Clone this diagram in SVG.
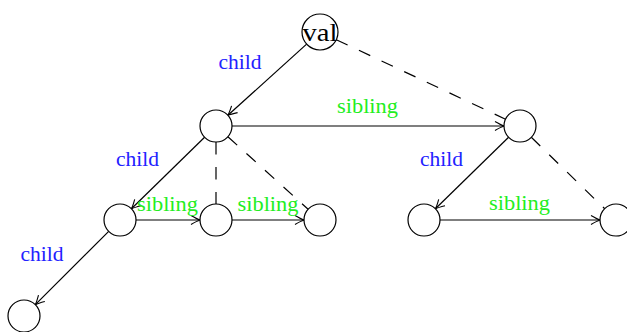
<svg xmlns="http://www.w3.org/2000/svg" width="627" height="332" viewBox="0 0 627 332">
<defs>
<marker id="arr" viewBox="-10 -6 12 12" refX="0" refY="0" markerWidth="12" markerHeight="12" markerUnits="userSpaceOnUse" orient="auto">
<path d="M -9 -4.5 Q -3 -1 0 0 Q -3 1 -9 4.5" fill="none" stroke="#000" stroke-width="1.1"/>
</marker>
<style>
.n{fill:#fff;stroke:#000;stroke-width:1.2}
.e{stroke:#000;stroke-width:1.2;fill:none}
.s{marker-end:url(#arr)}
.d{stroke-dasharray:12.5 12.5}
.ch{font-family:"Liberation Serif","Times New Roman",serif;font-size:20px;fill:#2222ff;text-anchor:middle}
.sb{font-family:"Liberation Serif","Times New Roman",serif;font-size:20px;fill:#22ee22;text-anchor:middle}
.v{font-family:"Liberation Serif","Times New Roman",serif;font-size:26px;fill:#000;text-anchor:middle}
</style>
</defs>
<g id="connectors">
<line class="e s" x1="306.6" y1="44.1" x2="227.9" y2="115.3"/>
<line class="e d" x1="336.3" y1="39.7" x2="505.5" y2="119.2"/>
<line class="e s" x1="232" y1="126" x2="504" y2="126"/>
<line class="e s" x1="204.6" y1="137.2" x2="131.4" y2="208.8"/>
<line class="e d" x1="216" y1="142" x2="216" y2="204"/>
<line class="e d" x1="227.9" y1="136.7" x2="308.1" y2="209.3"/>
<line class="e s" x1="136" y1="220" x2="200" y2="220"/>
<line class="e s" x1="232" y1="220" x2="304" y2="220"/>
<line class="e s" x1="108.7" y1="231.3" x2="35.3" y2="304.7"/>
<line class="e s" x1="508.6" y1="137.2" x2="435.4" y2="208.8"/>
<line class="e d" x1="531.3" y1="137.3" x2="604.7" y2="208.7"/>
<line class="e s" x1="440" y1="220" x2="600" y2="220"/>
<text class="ch" x="240" y="69" textLength="43" lengthAdjust="spacingAndGlyphs">child</text>
<text class="sb" x="367.5" y="113" textLength="61" lengthAdjust="spacingAndGlyphs">sibling</text>
<text class="ch" x="137.5" y="165.5" textLength="43" lengthAdjust="spacingAndGlyphs">child</text>
<text class="sb" x="167.5" y="211" textLength="61" lengthAdjust="spacingAndGlyphs">sibling</text>
<text class="sb" x="268" y="211" textLength="61" lengthAdjust="spacingAndGlyphs">sibling</text>
<text class="ch" x="441.5" y="166" textLength="43" lengthAdjust="spacingAndGlyphs">child</text>
<text class="sb" x="519.5" y="210" textLength="61" lengthAdjust="spacingAndGlyphs">sibling</text>
<text class="ch" x="42" y="260.5" textLength="43" lengthAdjust="spacingAndGlyphs">child</text>
</g>
<g id="val"><circle class="n" cx="320" cy="32" r="18"/><text class="v" x="320" y="41" textLength="35" lengthAdjust="spacingAndGlyphs">val</text></g>
<g id="a"><circle class="n" cx="216" cy="126" r="16"/></g>
<g id="b"><circle class="n" cx="520" cy="126" r="16"/></g>
<g id="c"><circle class="n" cx="120" cy="220" r="16"/></g>
<g id="d"><circle class="n" cx="216" cy="220" r="16"/></g>
<g id="e"><circle class="n" cx="320" cy="220" r="16"/></g>
<g id="f"><circle class="n" cx="424" cy="220" r="16"/></g>
<g id="g"><circle class="n" cx="616" cy="220" r="16"/></g>
<g id="h"><circle class="n" cx="24" cy="316" r="16"/></g>
</svg>
